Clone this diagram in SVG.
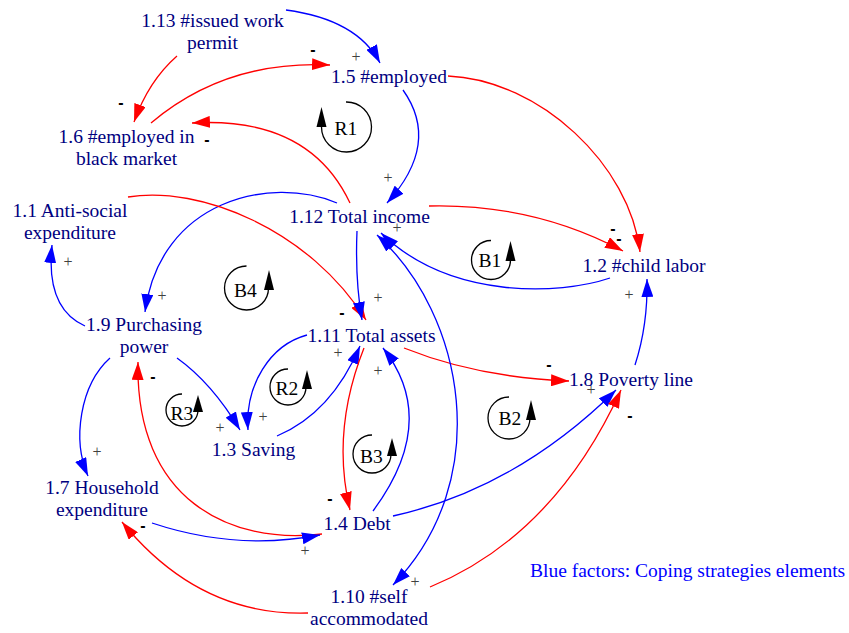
<svg xmlns="http://www.w3.org/2000/svg" width="849" height="633" viewBox="0 0 849 633">
<style>
.n{font-family:"Liberation Serif","Times New Roman",serif;font-size:19.5px;fill:#000080;text-anchor:middle}
.l{font-family:"Liberation Serif","Times New Roman",serif;font-size:19.5px;fill:#000;text-anchor:middle}
.note{font-family:"Liberation Serif","Times New Roman",serif;font-size:19.5px;fill:#0000ff}
.p{font-family:"Liberation Serif","Times New Roman",serif;font-size:16px;fill:#404040;text-anchor:middle}
.m{font-family:"Liberation Sans",Arial,sans-serif;font-weight:bold;font-size:16px;fill:#000;text-anchor:middle}
.r{fill:none;stroke:#ff0000;stroke-width:1.3;marker-end:url(#ar)}
.b{fill:none;stroke:#0000ff;stroke-width:1.3;marker-end:url(#ab)}
.lp{fill:none;stroke:#000;stroke-width:1.3}
</style>
<defs>
<marker id="ar" markerUnits="userSpaceOnUse" markerWidth="18" markerHeight="12" refX="18" refY="6" orient="auto" viewBox="0 0 18 12"><path d="M0,0 L18,6 L0,12 z" fill="#ff0000"/></marker>
<marker id="ab" markerUnits="userSpaceOnUse" markerWidth="18" markerHeight="12" refX="18" refY="6" orient="auto" viewBox="0 0 18 12"><path d="M0,0 L18,6 L0,12 z" fill="#0000ff"/></marker>
<marker id="abs" markerUnits="userSpaceOnUse" markerWidth="18" markerHeight="12" refX="18" refY="6" orient="auto-start-reverse" viewBox="0 0 18 12"><path d="M0,0 L18,6 L0,12 z" fill="#0000ff"/></marker>
</defs>
<rect width="849" height="633" fill="#fff"/>

<g id="connectors">
<path class="b" d="M286,10 Q357,19.5 380,63"/>
<path class="r" d="M177,56 Q148.5,81 134,122"/>
<path class="r" d="M151,123 Q225.5,60 330,65"/>
<path class="r" d="M350,203 Q309,116 192,123"/>
<path class="b" d="M403,90 Q441,143.5 387,203"/>
<path class="r" d="M448,76 C540,80 630,165 640,252"/>
<path class="r" d="M429,206 Q534,203.5 623,251"/>
<path class="b" d="M610,278 C560,295 450,300 381,233"/>
<path class="b" d="M635,365 Q648,325 647,279"/>
<path class="b" d="M337,203 C270,175 160,200 145,312"/>
<path class="r" d="M128,197 C200,185 310,230 366,320"/>
<path class="b" d="M357,231 Q355,280 362,320"/>
<path class="b" d="M85,326 Q45.5,308.5 52,245"/>
<path class="b" d="M110,358 C80,385 72,440 88,476"/>
<path class="b" d="M177,358 Q212,383 240,430"/>
<path class="b" d="M307,335 C270,345 245,385 248,430"/>
<path class="b" d="M277,436 Q331.5,413 360,346"/>
<path class="r" d="M322,534 C230,545 135,500 138,362"/>
<path class="b" d="M152,523 Q236,551 320,535"/>
<path class="r" d="M308,613 Q199,616.5 122,522"/>
<path class="r" d="M364,348 Q331,431 350,510"/>
<path class="b" d="M373,511 Q440,420.5 383,348"/>
<path class="b" d="M393,516 Q515.5,489 616,390"/>
<path class="r" d="M404,348 Q477.5,377.5 569,381"/>
<path class="r" d="M430,587 Q554.5,535.5 621,390"/>
<path class="b" style="marker-start:url(#abs)" d="M377,235 C465,315 495,480 393,585"/>
</g>

<g id="polarities">
<text class="p" x="356" y="62">+</text>
<text class="m" x="313" y="55">-</text>
<text class="m" x="121" y="108">-</text>
<text class="m" x="207" y="145">-</text>
<text class="p" x="388" y="183">+</text>
<text class="m" x="613" y="234">-</text>
<text class="m" x="619" y="244">-</text>
<text class="p" x="397" y="233">+</text>
<text class="p" x="629" y="300">+</text>
<text class="p" x="162" y="301">+</text>
<text class="m" x="342" y="318">-</text>
<text class="p" x="378" y="303">+</text>
<text class="p" x="68" y="267">+</text>
<text class="p" x="97" y="457">+</text>
<text class="p" x="220" y="433">+</text>
<text class="p" x="263" y="422">+</text>
<text class="p" x="338" y="358">+</text>
<text class="p" x="378" y="376">+</text>
<text class="m" x="153" y="382">-</text>
<text class="m" x="143" y="531">-</text>
<text class="p" x="305" y="556">+</text>
<text class="m" x="330" y="504">-</text>
<text class="m" x="549" y="370">-</text>
<text class="p" x="591" y="395">+</text>
<text class="m" x="630" y="421">-</text>
<text class="p" x="415" y="587">+</text>
</g>

<g id="n1_13"><text class="n" x="212.5" y="27">1.13 #issued work</text><text class="n" x="212.5" y="49">permit</text></g>
<g id="n1_5"><text class="n" x="389" y="83">1.5 #employed</text></g>
<g id="n1_6"><text class="n" x="126.5" y="143">1.6 #employed in</text><text class="n" x="126.5" y="165">black market</text></g>
<g id="n1_12"><text class="n" x="359.5" y="223">1.12 Total income</text></g>
<g id="n1_1"><text class="n" x="70" y="217">1.1 Anti-social</text><text class="n" x="70" y="239">expenditure</text></g>
<g id="n1_2"><text class="n" x="644" y="272">1.2 #child labor</text></g>
<g id="n1_9"><text class="n" x="144" y="331">1.9 Purchasing</text><text class="n" x="144" y="353">power</text></g>
<g id="n1_11"><text class="n" x="371.5" y="342">1.11 Total assets</text></g>
<g id="n1_3"><text class="n" x="253.5" y="456">1.3 Saving</text></g>
<g id="n1_8"><text class="n" x="631" y="386">1.8 Poverty line</text></g>
<g id="n1_4"><text class="n" x="357" y="530">1.4 Debt</text></g>
<g id="n1_7"><text class="n" x="102" y="494">1.7 Household</text><text class="n" x="102" y="516">expenditure</text></g>
<g id="n1_10"><text class="n" x="369" y="603">1.10 #self</text><text class="n" x="369" y="625">accommodated</text></g>
<g id="note"><text class="note" x="530" y="577">Blue factors: Coping strategies elements</text></g>

<g id="loopR1"><path class="lp" d="M346,102 A25,25 0 1 1 321.5,127"/><polygon points="321.5,107 316.5,127 326.5,127"/><text class="l" x="346" y="135">R1</text></g>
<g id="loopB1"><path class="lp" d="M491,240.5 A19.5,19.5 0 1 0 510.5,260"/><polygon points="510.5,241 505.5,261 515.5,261"/><text class="l" x="490" y="267">B1</text></g>
<g id="loopB4"><path class="lp" d="M246.5,266 A22,22 0 1 0 268.5,288"/><polygon points="269,270 264,290 274,290"/><text class="l" x="245.5" y="297">B4</text></g>
<g id="loopR2"><path class="lp" d="M288,369 A18,18 0 1 0 306,387"/><polygon points="307,370 302,389 312,389"/><text class="l" x="287" y="395">R2</text></g>
<g id="loopR3"><path class="lp" d="M182,394 A16,16 0 1 0 198,410"/><polygon points="198,395 193,412 203,412"/><text class="l" x="182" y="420">R3</text></g>
<g id="loopB3"><path class="lp" d="M372,435 A19,19 0 1 0 391,454"/><polygon points="392,438 387,456 397,456"/><text class="l" x="371.5" y="463">B3</text></g>
<g id="loopB2"><path class="lp" d="M509,397 A21,21 0 1 0 530,418"/><polygon points="531,400 526,420 536,420"/><text class="l" x="510" y="425">B2</text></g>
</svg>
